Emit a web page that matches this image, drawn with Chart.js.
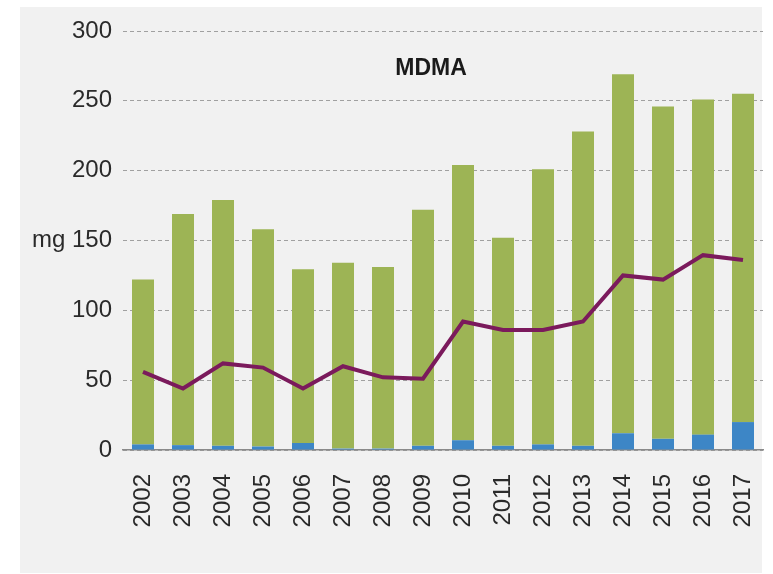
<!DOCTYPE html>
<html>
<head>
<meta charset="utf-8">
<script src="https://cdn.jsdelivr.net/npm/chart.js@4/dist/chart.umd.min.js"></script>
<style>
  html, body { margin: 0; padding: 0; background: #fff; }
  #panel { position: absolute; left: 20px; top: 7px; width: 742px; height: 566px; background: #f1f1f1; }
  #c { position: absolute; left: 0; top: 0; }
</style>
</head>
<body>
<div id="panel"></div>
<canvas id="c" width="773" height="574"></canvas>
<script>
let years = ['2002','2003','2004','2005','2006','2007','2008','2009','2010','2011','2012','2013','2014','2015','2016','2017']
// blue bottom part of each bar
let blue = [4, 3.5, 3, 2.5, 5, 1, 1, 3, 7, 3, 4, 3, 12, 8, 11, 20]
// green part stacked on the blue
let green = [118, 165.5, 176, 155.5, 124.5, 133, 130, 169, 197, 149, 197, 225, 257, 238, 240, 235]
// purple line
let line = [56, 44, 62, 59, 44, 60, 52, 51, 92, 86, 86, 92, 125, 122, 139.5, 136]
let yTicks = [0, 50, 100, 150, 200, 250, 300]
let title = 'MDMA'
let unit = 'mg'

let titlePlugin = {
    id: 'mdmaTitle',
    afterDraw(chart) {
        let ctx = chart.ctx
        let y = chart.scales.y.getPixelForValue(273)
        ctx.save()
        ctx.font = 'bold 23px "Liberation Sans", Arial, sans-serif'
        ctx.fillStyle = '#1a1a1a'
        ctx.textAlign = 'center'
        ctx.textBaseline = 'middle'
        ctx.fillText(title, 431, y)
        ctx.restore()
    }
}

let tickFont = { family: '"Liberation Sans", Arial, sans-serif', size: 24 }

new Chart('c', {
    data: {
        labels: years,
        datasets: [{
            type: 'line',
            data: line,
            borderColor: '#7b1a5c',
            borderWidth: 4,
            pointRadius: 0,
            tension: 0,
            order: 0
        }, {
            type: 'bar',
            data: blue,
            backgroundColor: '#3d86c6',
            barPercentage: 0.55,
            categoryPercentage: 1,
            order: 1
        }, {
            type: 'bar',
            data: green,
            backgroundColor: '#9db455',
            barPercentage: 0.55,
            categoryPercentage: 1,
            order: 1
        }]
    },
    options: {
        responsive: false,
        animation: false,
        layout: { padding: { top: 31, right: 10, left: 0, bottom: 0 } },
        plugins: { legend: { display: false }, tooltip: { enabled: false } },
        scales: {
            x: {
                stacked: true,
                grid: { display: false },
                border: { display: true, color: '#8a8a8a', width: 1.5 },
                ticks: { color: '#2a2a2a', font: tickFont, minRotation: 90, maxRotation: 90, padding: 16 },
                afterFit: s => { s.height = 124; s.paddingLeft = 0; s.paddingRight = 0 }
            },
            y: {
                stacked: true,
                min: 0,
                max: 300,
                afterBuildTicks: s => { s.ticks = yTicks.map(v => ({ value: v })) },
                grid: { color: '#a0a0a0', drawTicks: false, lineWidth: 1 },
                border: { display: false, dash: [4, 3] },
                ticks: {
                    color: '#2a2a2a',
                    font: tickFont,
                    padding: 11,
                    callback: v => v == 150 ? unit + ' ' + v : v
                },
                afterFit: s => { s.width = 123 }
            }
        }
    },
    plugins: [titlePlugin]
})
</script>
</body>
</html>
